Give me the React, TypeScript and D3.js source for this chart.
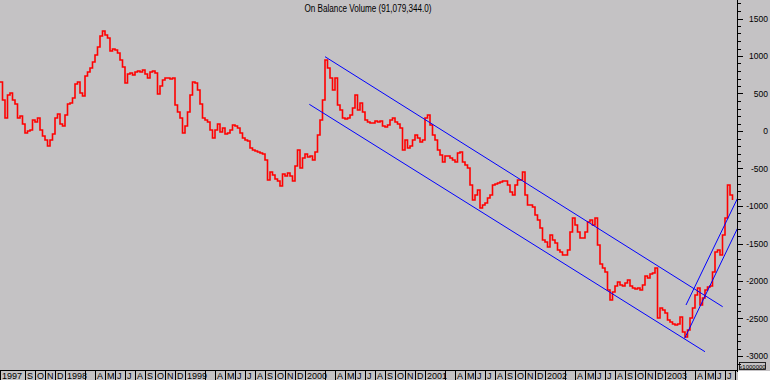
import React, { useEffect } from 'react';
import * as d3 from 'd3';

const W = 770;
const H = 380;

// On Balance Volume, sampled every quarter month, starting mid-June 1997
// (month index: 0 = July 1997)
const startMonth = -0.5;
const monthStep = 0.25;
const obv: number[] = [
  653, 413, 173, 480, 507, 413, 360, 173, 200, 93,
  -27, 0, 13, 147, 120, 173, 13, -67, -120, -200,
  -120, -40, 173, 227, 93, 67, 213, 360, 373, 440,
  627, 653, 507, 467, 733, 787, 840, 920, 1013, 1120,
  1267, 1333, 1280, 1240, 1067, 1093, 1080, 1040, 947, 853,
  640, 760, 773, 747, 787, 800, 787, 813, 760, 707,
  787, 800, 773, 493, 600, 680, 707, 707, 693, 707,
  347, 253, 173, -27, 67, 253, 480, 653, 640, 547,
  360, 173, 147, 120, 13, -93, 13, 93, -13, 40,
  -40, -27, 13, 80, 67, 40, -27, -93, -120, -133,
  -227, -253, -267, -280, -293, -307, -387, -653, -547, -587,
  -640, -667, -733, -573, -600, -560, -600, -667, -467, -253,
  -493, -360, -307, -347, -333, -387, -280, -53, 147, 413,
  947, 840, 707, 547, 707, 347, 280, 173, 160, 173,
  213, 307, 480, 280, 373, 253, 147, 120, 107, 107,
  133, 120, 133, 67, 53, 80, 147, 173, 120, 93,
  40, -253, -120, -227, -200, -120, -53, -93, -147, -120,
  173, 213, 80, -53, -120, -253, -320, -413, -333, -333,
  -360, -387, -413, -293, -280, -413, -453, -493, -720, -920,
  -853, -787, -1027, -987, -960, -893, -853, -720, -707, -693,
  -680, -667, -667, -720, -813, -853, -720, -653, -653, -547,
  -853, -987, -987, -1013, -1120, -1187, -1293, -1453, -1480, -1547,
  -1387, -1453, -1493, -1587, -1613, -1653, -1653, -1587, -1347, -1160,
  -1253, -1347, -1427, -1427, -1347, -1213, -1187, -1253, -1160, -1520,
  -1773, -1827, -1880, -2120, -2253, -2147, -2067, -2013, -2053, -2067,
  -2027, -1987, -2067, -2093, -2107, -2093, -2120, -2053, -1933, -1960,
  -1907, -1893, -1827, -2493, -2360, -2387, -2427, -2520, -2547, -2573,
  -2587, -2573, -2480, -2680, -2747, -2653, -2493, -2360, -2187, -2093,
  -2320, -2227, -2120, -2080, -2067, -1880, -1613, -1587, -1653, -1387,
  -1160, -720, -853, -920,
];

// Trend channel lines: [month index, value]
const downUpper: [number, number][] = [[32.0, 991], [71.77, -2343]];
const downLower: [number, number][] = [[30.43, 356], [70.0, -2943]];
const upUpper: [number, number][] = [[68.1, -2320], [73.33, -876]];
const upLower: [number, number][] = [[67.97, -2764], [73.33, -1276]];

const yTickValues = [1500, 1000, 500, 0, -500, -1000, -1500, -2000, -2500, -3000];
const monthLetters = ['J', 'F', 'M', 'A', 'M', 'J', 'J', 'A', 'S', 'O', 'N', 'D'];
const firstYear = 1997;
const firstMonthOfYear = 6; // July
const lastMonthIndex = 73; // Aug 2003

const title = 'On Balance Volume (91,079,344.0)';

const PLOT_R = 737;
const PLOT_B = 370;

export default function App() {
  useEffect(() => {
    document.body.style.margin = '0';
  }, []);

  const x = d3.scaleLinear().domain([-0.5, 72.7]).range([0, 732]);
  const y = d3.scaleLinear().domain([-3000, 1500]).range([356, 18.5]);

  const pts: [number, number][] = obv.map((v, i) => [startMonth + i * monthStep, v]);
  const line = d3
    .line<[number, number]>()
    .x((d) => x(d[0]))
    .y((d) => y(d[1]))
    .curve(d3.curveStepAfter);
  const straight = d3
    .line<[number, number]>()
    .x((d) => x(d[0]))
    .y((d) => y(d[1]));

  const minorTicks = d3.range(-3100, 1800, 100).filter((v) => v % 500 !== 0 && y(v) > 0 && y(v) < 372);

  // bottom month ticks
  const monthTicks: { x: number; label: string | null; sep: boolean }[] = [];
  monthTicks.push({ x: 0, label: String(firstYear), sep: true });
  for (let m = 0; m <= lastMonthIndex; m++) {
    const moy = (firstMonthOfYear + m) % 12;
    const yr = firstYear + Math.floor((firstMonthOfYear + m) / 12);
    const xp = x(m);
    if (xp < 20) continue;
    if (moy === 0) monthTicks.push({ x: xp, label: String(yr), sep: true });
    else if (moy === 1) continue;
    else if (moy === 2) monthTicks.push({ x: xp, label: null, sep: true });
    else monthTicks.push({ x: xp, label: monthLetters[moy], sep: true });
  }

  return (
    <svg width={W} height={H} style={{ display: 'block', background: '#c4c2c4' }} fontFamily="'Liberation Sans', Arial, sans-serif">
      <defs>
        <clipPath id="plot">
          <rect x={0} y={0} width={PLOT_R} height={PLOT_B} />
        </clipPath>
        <clipPath id="bottom">
          <rect x={0} y={PLOT_B} width={PLOT_R} height={H - PLOT_B} />
        </clipPath>
      </defs>
      <rect x={0} y={0} width={W} height={H} fill="#c4c2c4" />

      <text x={368} y={12} fontSize={10} textAnchor="middle" textLength={127} lengthAdjust="spacingAndGlyphs" fill="#000">
        {title}
      </text>

      <g clipPath="url(#plot)">
        <path d={line(pts) || ''} fill="none" stroke="#ff0000" strokeWidth={1.6} />
        {[downUpper, downLower, upUpper, upLower].map((l, i) => (
          <path key={i} d={straight(l) || ''} fill="none" stroke="#0000ff" strokeWidth={1} />
        ))}
      </g>

      {/* right axis */}
      <line x1={PLOT_R + 0.5} x2={PLOT_R + 0.5} y1={0} y2={372} stroke="#000" />
      {yTickValues.map((v) => (
        <g key={v}>
          <line x1={PLOT_R} x2={PLOT_R + 6} y1={Math.round(y(v)) + 0.5} y2={Math.round(y(v)) + 0.5} stroke="#000" />
          <text x={768} y={y(v) + 3} fontSize={8.5} textAnchor="end" fill="#000">
            {v}
          </text>
        </g>
      ))}
      {minorTicks.map((v) => (
        <line key={v} x1={PLOT_R} x2={PLOT_R + 4} y1={Math.round(y(v)) + 0.5} y2={Math.round(y(v)) + 0.5} stroke="#000" />
      ))}

      {/* bottom axis */}
      <line x1={0} x2={PLOT_R} y1={PLOT_B + 0.5} y2={PLOT_B + 0.5} stroke="#000" />
      <g clipPath="url(#bottom)">
        {monthTicks.map((t, i) => (
          <g key={i}>
            {t.sep && <line x1={Math.round(t.x) + 0.5} x2={Math.round(t.x) + 0.5} y1={PLOT_B} y2={H} stroke="#000" />}
            {t.label && (
              <text x={Math.round(t.x) + 2} y={379} fontSize={9} fill="#000">
                {t.label}
              </text>
            )}
          </g>
        ))}
      </g>
      <rect x={PLOT_R + 1} y={PLOT_B + 1} width={W - PLOT_R - 1} height={H - PLOT_B - 1} fill="#ffffff" />
      <rect x={739.5} y={362.5} width={26} height={7} fill="none" stroke="#000" strokeWidth={0.8} />
      <text x={752.5} y={368.5} fontSize={6} textAnchor="middle" fill="#000">
        x1000000
      </text>
    </svg>
  );
}
